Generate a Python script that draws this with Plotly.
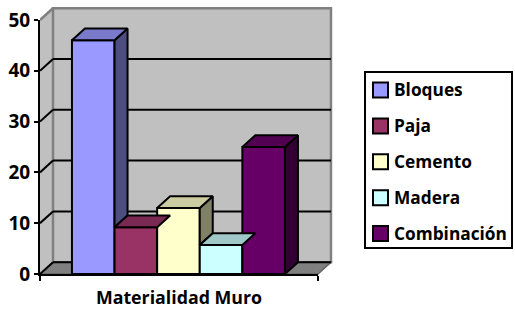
import plotly.graph_objects as go

# ---- data ----
categories = ["Bloques", "Paja", "Cemento", "Madera", "Combinación"]
values = [46, 9.2, 13, 5.7, 25]
y_ticks = [0, 10, 20, 30, 40, 50]
axis_title = "Materialidad Muro"

# ---- style ----
front_colors = ["#9999FF", "#993366", "#FFFFCC", "#CCFFFF", "#660066"]
top_colors = ["#7A7ACC", "#7A2952", "#CCCCA3", "#A0C8C8", "#520052"]
side_colors = ["#4D4D80", "#4D1A33", "#808066", "#668080", "#330033"]
WALL = "#C0C0C0"
FLOOR = "#808080"
EDGE = "#808080"
FONT = "Open Sans"

W, H = 515, 314
AX_PX = 40          # front-left corner (px)
ZERO_PX = 274       # value 0 (px from top)
TOP_PX = 20         # value 50
FLOOR_R_PX = 318
XEND_PX = 345
SX = 42.6           # px per category unit
SY = (ZERO_PX - TOP_PX) / 50.0
GAP_L = 0.75
GAP_R = 0.775
DX = 13 / SX
DY = 11.8 / SY

x_left = -0.5 - GAP_L
floor_right = len(categories) - 0.5 + GAP_R
wall_left = x_left + DX
wall_right = floor_right + DX
ymax_v = max(y_ticks)

fig = go.Figure()

# front faces
for i, (c, v) in enumerate(zip(categories, values)):
    fig.add_trace(go.Bar(
        x=[i], y=[v], width=1, name=c,
        marker=dict(color=front_colors[i], line=dict(color="black", width=2)),
        hoverinfo="skip", showlegend=False,
    ))

# tops and visible sides
for i, v in enumerate(values):
    l, r = i - 0.5, i + 0.5
    nxt = values[i + 1] if i + 1 < len(values) else 0
    if nxt < v:
        fig.add_trace(go.Scatter(
            x=[r, r, r + DX, r + DX, r], y=[nxt, v, v + DY, nxt + DY, nxt],
            mode="lines", fill="toself", fillcolor=side_colors[i],
            line=dict(color="black", width=2), showlegend=False, hoverinfo="skip"))
    fig.add_trace(go.Scatter(
        x=[l, r, r + DX, l + DX, l], y=[v, v, v + DY, v + DY, v],
        mode="lines", fill="toself", fillcolor=top_colors[i],
        line=dict(color="black", width=2), showlegend=False, hoverinfo="skip"))

# anchor trace for the visible axes
fig.add_trace(go.Scatter(x=[0], y=[0], xaxis="x2", yaxis="y2", mode="none",
                         showlegend=False, hoverinfo="skip"))

shapes = []
# side wall
shapes.append(dict(type="path", xref="x", yref="y", layer="below",
                   path=f"M{x_left},0 L{x_left},{ymax_v} L{wall_left},{ymax_v+DY} L{wall_left},{DY} Z",
                   fillcolor=WALL, line=dict(width=0)))
# back wall
shapes.append(dict(type="rect", xref="x", yref="y", layer="below",
                   x0=wall_left, x1=wall_right, y0=DY, y1=ymax_v + DY,
                   fillcolor=WALL, line=dict(color=EDGE, width=2.5)))
# floor
shapes.append(dict(type="path", xref="x", yref="y", layer="below",
                   path=f"M{x_left},0 L{floor_right},0 L{wall_right},{DY} L{wall_left},{DY} Z",
                   fillcolor=FLOOR, line=dict(color="#666666", width=1.5)))
# gridlines
for t in y_ticks[:-1]:
    shapes.append(dict(type="line", xref="x", yref="y", layer="below",
                       x0=wall_left, x1=wall_right, y0=t + DY, y1=t + DY,
                       line=dict(color="black", width=2)))
    shapes.append(dict(type="line", xref="x", yref="y", layer="below",
                       x0=x_left, x1=wall_left, y0=t, y1=t + DY,
                       line=dict(color="black", width=2)))
shapes.append(dict(type="line", xref="x", yref="y", layer="below",
                   x0=x_left, x1=wall_left, y0=ymax_v, y1=ymax_v + DY,
                   line=dict(color=EDGE, width=2.5)))

# legend (drawn manually to match the original layout)
LEG_L, LEG_T, LEG_R, LEG_B = 365, 72, 512, 248
LEG_Y0, LEG_STEP = 90, 35.9
SQ = 15
annotations = []
shapes.append(dict(type="rect", xref="paper", yref="paper",
                   x0=LEG_L / W, x1=LEG_R / W, y0=1 - LEG_B / H, y1=1 - LEG_T / H,
                   fillcolor="white", line=dict(color="black", width=2)))
for i, c in enumerate(categories):
    cy = LEG_Y0 + LEG_STEP * i
    shapes.append(dict(type="rect", xref="paper", yref="paper",
                       x0=373 / W, x1=(373 + SQ) / W,
                       y0=1 - (cy + SQ / 2) / H, y1=1 - (cy - SQ / 2) / H,
                       fillcolor=front_colors[i], line=dict(color="black", width=2)))
    annotations.append(dict(xref="paper", yref="paper", x=392 / W, y=1 - cy / H,
                            xanchor="left", yanchor="middle", showarrow=False, text=c,
                            font=dict(family=FONT, size=17.3, color="black", weight="bold")))

fig.update_layout(
    width=W, height=H,
    margin=dict(l=0, r=0, t=0, b=0, autoexpand=False),
    paper_bgcolor="white", plot_bgcolor="rgba(0,0,0,0)",
    barmode="overlay",
    shapes=shapes,
    annotations=annotations,
    showlegend=False,
    xaxis=dict(domain=[AX_PX / W, XEND_PX / W],
               range=[x_left, x_left + (XEND_PX - AX_PX) / SX],
               visible=False, fixedrange=True, automargin=False),
    yaxis=dict(domain=[0, 1],
               range=[-(H - ZERO_PX) / SY, ZERO_PX / SY],
               visible=False, fixedrange=True, automargin=False),
    xaxis2=dict(domain=[AX_PX / W, FLOOR_R_PX / W], anchor="y2", range=[0, 1],
                showline=True, linecolor="black", linewidth=2,
                ticks="outside", ticklen=5, tickwidth=2, tickcolor="black",
                tickvals=[0, 1], showticklabels=False, showgrid=False, zeroline=False,
                fixedrange=True, automargin=False,
                title=dict(text=axis_title, standoff=12,
                           font=dict(family=FONT, size=17.8, color="black", weight="bold"))),
    yaxis2=dict(domain=[(H - ZERO_PX) / H, (H - TOP_PX) / H], anchor="x2", range=[0, ymax_v],
                showline=True, linecolor="black", linewidth=2,
                ticks="outside", ticklen=4, tickwidth=2, tickcolor="black",
                tickvals=y_ticks, showgrid=False, zeroline=False, fixedrange=True,
                automargin=False,
                tickfont=dict(family=FONT, size=19, color="black", weight="bold")),
)

fig.write_html("out.html", config={"displayModeBar": False},
               post_script="document.body.style.margin='0px';")
